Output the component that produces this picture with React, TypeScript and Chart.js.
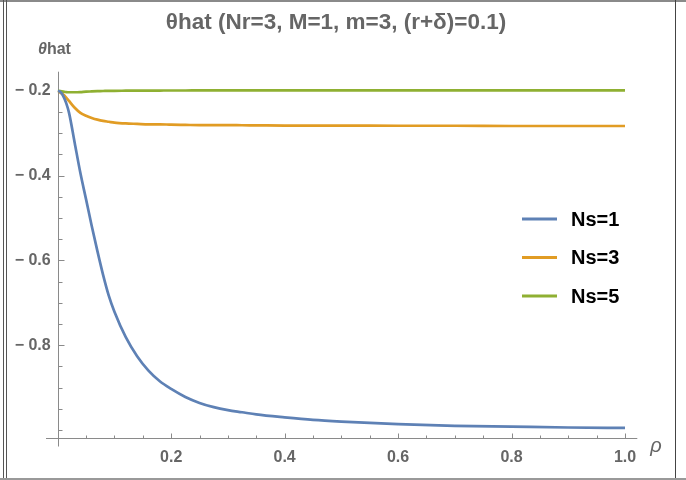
import React, { useEffect, useRef } from "react";
import { Chart, registerables } from "chart.js";

Chart.register(...registerables);

// ---- data ----
const rho = [0, 0.005, 0.01, 0.015, 0.02, 0.03, 0.04, 0.05, 0.06, 0.07, 0.08, 0.09, 0.1, 0.12, 0.14, 0.16, 0.18, 0.2, 0.225, 0.25, 0.275, 0.3, 0.325, 0.35, 0.4, 0.45, 0.5, 0.6, 0.7, 0.8, 0.9, 1.0];
const ns1 = [-0.2, -0.203, -0.213, -0.229, -0.252, -0.323, -0.394, -0.456, -0.519, -0.578, -0.634, -0.683, -0.721, -0.781, -0.826, -0.86, -0.885, -0.903, -0.922, -0.936, -0.946, -0.953, -0.958, -0.963, -0.97, -0.976, -0.98, -0.986, -0.99, -0.992, -0.994, -0.995];
const ns3 = [-0.2, -0.205, -0.209, -0.216, -0.224, -0.24, -0.252, -0.259, -0.264, -0.268, -0.271, -0.273, -0.275, -0.277, -0.278, -0.279, -0.279, -0.28, -0.2805, -0.281, -0.281, -0.281, -0.2813, -0.2815, -0.282, -0.282, -0.282, -0.2825, -0.2825, -0.283, -0.283, -0.283];
const ns5 = [-0.2, -0.201, -0.202, -0.203, -0.2035, -0.2035, -0.203, -0.202, -0.2015, -0.201, -0.2005, -0.2, -0.2, -0.1998, -0.1996, -0.1995, -0.1994, -0.1993, -0.1993, -0.1992, -0.1992, -0.1991, -0.1991, -0.199, -0.199, -0.199, -0.199, -0.199, -0.199, -0.199, -0.199, -0.199];
const seriesLabels = ["Ns=1", "Ns=3", "Ns=5"];
const seriesColors = ["#5E81B5", "#E19C24", "#8FB032"];
const xTicks = [0.2, 0.4, 0.6, 0.8, 1.0];
const yTicks = [-0.2, -0.4, -0.6, -0.8];
const titleText = "θhat (Nr=3, M=1, m=3, (r+δ)=0.1)";
const yAxisLabel = "hat";
const xAxisLabel = "ρ";

const X_MIN = 0;
const X_MAX = 1;
const Y_MIN = -1.018;
const Y_MAX = -0.155;

const FONT = "'Liberation Sans', Arial, Helvetica, sans-serif";
const GRAY = "#666666";
const AXIS = "#8a8a8a";

const fmt = (v: number) => (v < 0 ? "\u2212 " + Math.abs(v).toFixed(1) : v.toFixed(1));

const axesPlugin = {
  id: "mmaAxes",
  beforeDatasetsDraw(chart: any) {
    const { ctx } = chart;
    const xs = chart.scales.x;
    const ys = chart.scales.y;
    const r = (p: number) => Math.round(p) + 0.5;
    const x0 = r(xs.getPixelForValue(0));
    const yb = r(ys.getPixelForValue(Y_MIN));
    ctx.save();
    ctx.strokeStyle = AXIS;
    ctx.lineWidth = 1;
    ctx.beginPath();
    ctx.moveTo(xs.getPixelForValue(-0.0206), yb);
    ctx.lineTo(xs.getPixelForValue(1.0217), yb);
    ctx.moveTo(x0, ys.getPixelForValue(Y_MAX));
    ctx.lineTo(x0, yb + 8);
    for (let i = 1; i <= 20; i++) {
      const px = r(xs.getPixelForValue(i * 0.05));
      const len = i % 4 === 0 ? 5 : 3;
      ctx.moveTo(px, yb);
      ctx.lineTo(px, yb - len);
    }
    for (let i = 4; i <= 20; i++) {
      const py = r(ys.getPixelForValue(-i * 0.05));
      const len = i % 4 === 0 && i < 20 ? 6 : 4;
      ctx.moveTo(x0, py);
      ctx.lineTo(x0 + len, py);
    }
    ctx.stroke();
    ctx.restore();
  },
  afterDraw(chart: any) {
    const { ctx } = chart;
    ctx.save();
    ctx.fillStyle = GRAY;
    ctx.textBaseline = "middle";
    ctx.textAlign = "left";
    // y-axis label: italic theta + "hat"
    ctx.font = `italic bold 16px ${FONT}`;
    const th = "θ";
    ctx.fillText(th, 38, 50);
    const w = ctx.measureText(th).width;
    ctx.font = `bold 16px ${FONT}`;
    ctx.fillText(yAxisLabel, 38 + w, 50);
    // x-axis label
    ctx.font = `italic 20px ${FONT}`;
    ctx.textAlign = "center";
    ctx.fillText(xAxisLabel, 656, 446);
    // legend
    ctx.textAlign = "left";
    ctx.font = `bold 20px ${FONT}`;
    chart.data.datasets.forEach((ds: any, i: number) => {
      const yy = 219 + i * 38.5;
      ctx.strokeStyle = ds.borderColor;
      ctx.lineWidth = 3;
      ctx.beginPath();
      ctx.moveTo(522, yy);
      ctx.lineTo(557, yy);
      ctx.stroke();
      ctx.fillStyle = "#000000";
      ctx.fillText(ds.label, 571, yy + 1);
    });
    ctx.restore();
  },
};

export default function App() {
  const ref = useRef<HTMLCanvasElement | null>(null);
  useEffect(() => {
    if (!ref.current) return;
    const series = [ns1, ns3, ns5];
    const chart = new Chart(ref.current, {
      type: "line",
      data: {
        datasets: series.map((vals, i) => ({
          label: seriesLabels[i],
          data: rho.map((x, j) => ({ x, y: vals[j] })),
          borderColor: seriesColors[i],
          backgroundColor: seriesColors[i],
          borderWidth: 2.7,
          pointRadius: 0,
          cubicInterpolationMode: "monotone" as const,
          fill: false,
          yAxisID: "y",
        })),
      },
      options: {
        responsive: false,
        animation: false,
        layout: { padding: { left: 0, right: 14, top: 0, bottom: 0 } },
        plugins: {
          legend: { display: false },
          tooltip: { enabled: false },
          title: {
            display: true,
            text: titleText,
            color: GRAY,
            font: { family: FONT, size: 22.5, weight: "bold" },
            padding: { top: 9.5, bottom: 35.2 },
          },
        },
        scales: {
          x: {
            type: "linear",
            min: X_MIN,
            max: X_MAX,
            grid: { display: false, drawTicks: false },
            border: { display: false },
            afterBuildTicks: (s: any) => {
              s.ticks = xTicks.map((v) => ({ value: v }));
            },
            afterFit: (s: any) => {
              s.height = 42.3;
            },
            ticks: {
              color: GRAY,
              padding: 10,
              maxRotation: 0,
              autoSkip: false,
              font: { family: FONT, size: 16, weight: "bold" },
              callback: (v: any) => Number(v).toFixed(1),
            },
          },
          y: {
            type: "linear",
            min: Y_MIN,
            max: Y_MAX,
            grid: { display: false, drawTicks: false },
            border: { display: false },
            afterBuildTicks: (s: any) => {
              s.ticks = yTicks.map((v) => ({ value: v }));
            },
            afterFit: (s: any) => {
              s.width = 57.7;
            },
            ticks: {
              color: GRAY,
              padding: 7,
              autoSkip: false,
              font: { family: FONT, size: 16, weight: "bold" },
              callback: (v: any) => fmt(Number(v)),
            },
          },
          y2: {
            type: "linear",
            position: "right",
            display: true,
            grid: { display: false, drawTicks: false },
            border: { display: false },
            ticks: { display: false },
            afterFit: (s: any) => {
              s.width = 47;
            },
          },
        },
      },
      plugins: [axesPlugin],
    });
    return () => chart.destroy();
  }, []);

  return (
    <div style={{ position: "fixed", left: 0, top: 0, width: 686, height: 480, background: "#ffffff", overflow: "hidden" }}>
      <canvas ref={ref} width={686} height={480} style={{ position: "absolute", left: 0, top: 0, width: 686, height: 480 }} />
      <div style={{ position: "absolute", left: 0, top: 0, width: 686, height: 2, background: "#8a8a8a" }} />
      <div style={{ position: "absolute", left: 3, top: 0, width: 1, height: 480, background: "#555555" }} />
      <div style={{ position: "absolute", left: 6, top: 0, width: 1, height: 480, background: "#555555" }} />
      <div style={{ position: "absolute", left: 675, top: 0, width: 1, height: 479, background: "#444444" }} />
      <div style={{ position: "absolute", left: 0, top: 478, width: 686, height: 2, background: "#999999" }} />
    </div>
  );
}
